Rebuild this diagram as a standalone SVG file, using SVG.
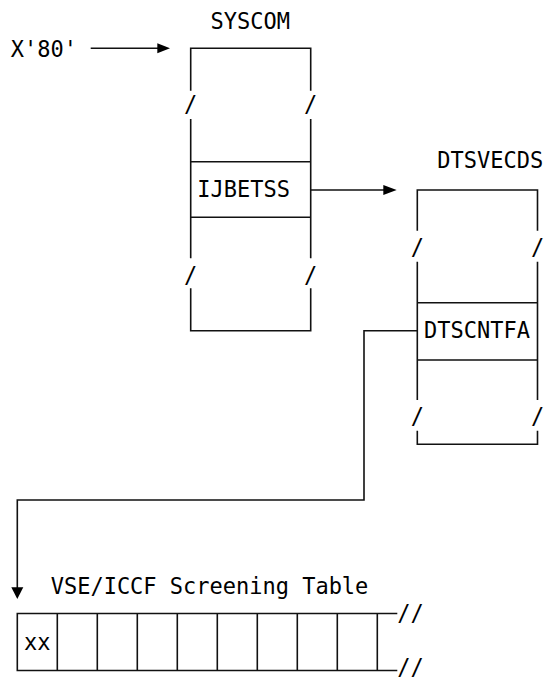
<svg xmlns="http://www.w3.org/2000/svg" width="544" height="679" viewBox="0 0 544 679">
<defs>
<style>
text{font-family:"DejaVu Sans Mono","Liberation Mono",monospace;font-size:22px;fill:#000}
.ln{stroke:#111;stroke-width:1.6;fill:none}
.ah{fill:#000;stroke:none}
.m{text-anchor:middle}
</style>
</defs>
<rect width="544" height="679" fill="#fff"/>
<g id="x80">
<text transform="translate(10.7,56.6) scale(1,1.07)">X'80'</text>
</g>
<g id="syscom">
<text transform="translate(210.6,29.3) scale(1,1.07)">SYSCOM</text>
<path class="ln" d="M190.7,90.7 V48.3 H310.7 V90.7 M190.7,119 V258.3 M310.7,119 V258.3 M190.7,288.3 V330.7 H310.7 V288.3 M190.7,161.7 H310.7 M190.7,217.3 H310.7"/>
<text class="m" transform="translate(190.7,112) scale(1,1.07)">/</text>
<text class="m" transform="translate(310.7,112) scale(1,1.07)">/</text>
<text class="m" transform="translate(190.7,283) scale(1,1.07)">/</text>
<text class="m" transform="translate(310.7,283) scale(1,1.07)">/</text>
<text transform="translate(197.3,196.7) scale(1,1.07)">IJBETSS</text>
</g>
<g id="dtsvecds">
<text transform="translate(437.3,168.3) scale(1,1.07)">DTSVECDS</text>
<path class="ln" d="M417.3,230.7 V190 H537.5 V230.7 M417.3,261.7 V400 M537.5,261.7 V400 M417.3,430.7 V444.3 H537.5 V430.7 M417.3,302.7 H537.5 M417.3,360 H537.5"/>
<text class="m" transform="translate(417.3,255) scale(1,1.07)">/</text>
<text class="m" transform="translate(537.5,255) scale(1,1.07)">/</text>
<text class="m" transform="translate(417.3,424) scale(1,1.07)">/</text>
<text class="m" transform="translate(537.5,424) scale(1,1.07)">/</text>
<text transform="translate(424,338.3) scale(1,1.07)">DTSCNTFA</text>
</g>
<g id="table">
<text transform="translate(50.7,594) scale(1,1.07)">VSE/ICCF Screening Table</text>
<path class="ln" d="M397.3,613.5 H17.3 V670.5 H397.3 M57.3,613.5 V670.5 M97.3,613.5 V670.5 M137.3,613.5 V670.5 M177.3,613.5 V670.5 M217.3,613.5 V670.5 M257.3,613.5 V670.5 M297.3,613.5 V670.5 M337.3,613.5 V670.5 M377.3,613.5 V670.5"/>
<text transform="translate(397.3,621) scale(1,1.07)">//</text>
<text transform="translate(397.3,674.5) scale(1,1.07)">//</text>
<text transform="translate(24,650) scale(1,1.07)">xx</text>
</g>
<g id="connectors">
<path class="ln" d="M90.7,48.3 H158"/>
<polygon class="ah" points="170,48.3 157.3,43.3 157.3,53.3"/>
<path class="ln" d="M310.7,190 H384"/>
<polygon class="ah" points="396.7,190 383.3,185 383.3,195"/>
<path class="ln" d="M417.3,330.7 H364 V500 H17.3 V588"/>
<polygon class="ah" points="17.3,599 11.3,587.3 23.3,587.3"/>
</g>
</svg>
